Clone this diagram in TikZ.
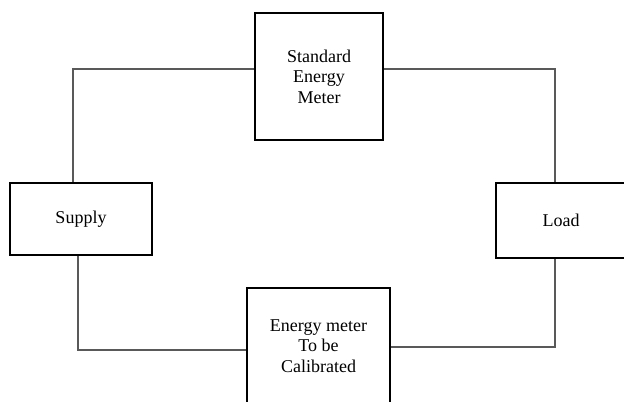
\documentclass[tikz,border=0pt]{standalone}
\usepackage{fontspec}
\setmainfont{Liberation Serif}
\begin{document}
\begin{tikzpicture}[x=0.75pt,y=-0.75pt,
  blk/.style={draw, line width=2pt, align=center, inner sep=0pt, font=\fontsize{13.5}{15.4}\selectfont},
  wire/.style={draw=black!65, line width=0.8pt}]
\useasboundingbox (0,0) rectangle (624,402);
\node[blk, minimum width=96pt, minimum height=95.25pt] (std) at (319,76.5) {Standard\\Energy\\Meter};
\node[blk, minimum width=106.5pt, minimum height=54pt] (supply) at (81,219) {Supply};
\node[blk, minimum width=97.5pt, minimum height=56.25pt] (load) at (561,220.5) {Load};
\node[blk, minimum width=107.25pt, minimum height=87pt] (cal) at (318.5,346) {Energy meter\\To be\\Calibrated};
% corners of the loop
\coordinate (tl) at (73,69);
\coordinate (tr) at (555,69);
\coordinate (br) at (555,347);
\coordinate (bl) at (78,350);
\draw[wire] (tl |- supply.north) -- (tl) -- (tl -| std.west);
\draw[wire] (std.east |- tr) -- (tr) -- (tr |- load.north);
\draw[wire] (br |- load.south) -- (br) -- (br -| cal.east);
\draw[wire] (bl |- supply.south) -- (bl) -- (bl -| cal.west);
\end{tikzpicture}
\end{document}
